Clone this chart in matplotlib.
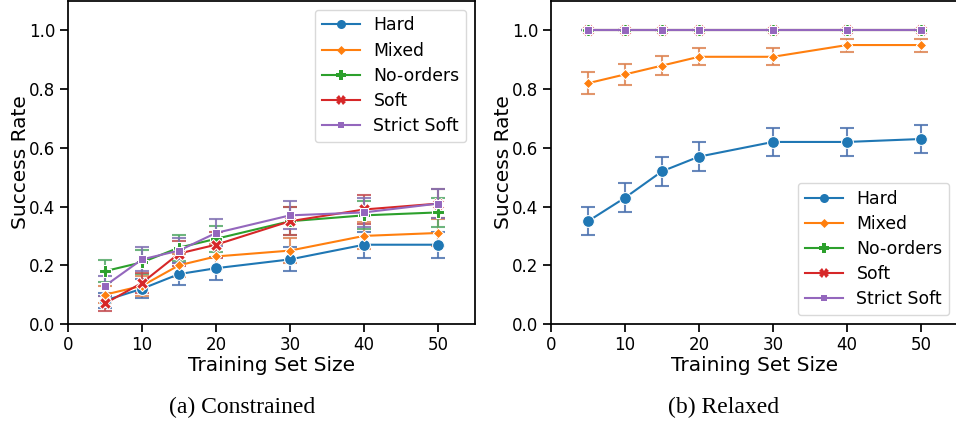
import matplotlib
matplotlib.use("Agg")
import matplotlib.pyplot as plt

sizes = [5, 10, 15, 20, 30, 40, 50]
methods = ["Hard", "Mixed", "No-orders", "Soft", "Strict Soft"]

# Constrained
con_hard = [0.08, 0.12, 0.17, 0.19, 0.22, 0.27, 0.27]
con_mixed = [0.10, 0.13, 0.20, 0.23, 0.25, 0.30, 0.31]
con_noord = [0.18, 0.21, 0.26, 0.29, 0.35, 0.37, 0.38]
con_soft = [0.07, 0.14, 0.24, 0.27, 0.35, 0.39, 0.41]
con_strict = [0.13, 0.22, 0.25, 0.31, 0.37, 0.38, 0.41]
con_hard_err = [0.027, 0.032, 0.038, 0.039, 0.041, 0.044, 0.044]
con_mixed_err = [0.030, 0.034, 0.040, 0.042, 0.043, 0.046, 0.046]
con_noord_err = [0.038, 0.041, 0.044, 0.045, 0.048, 0.048, 0.049]
con_soft_err = [0.026, 0.035, 0.043, 0.044, 0.048, 0.049, 0.049]
con_strict_err = [0.034, 0.041, 0.043, 0.046, 0.048, 0.049, 0.049]

# Relaxed
rel_hard = [0.35, 0.43, 0.52, 0.57, 0.62, 0.62, 0.63]
rel_mixed = [0.82, 0.85, 0.88, 0.91, 0.91, 0.95, 0.95]
rel_noord = [1.0, 1.0, 1.0, 1.0, 1.0, 1.0, 1.0]
rel_soft = [1.0, 1.0, 1.0, 1.0, 1.0, 1.0, 1.0]
rel_strict = [1.0, 1.0, 1.0, 1.0, 1.0, 1.0, 1.0]
rel_hard_err = [0.048, 0.050, 0.050, 0.050, 0.049, 0.049, 0.048]
rel_mixed_err = [0.038, 0.036, 0.032, 0.029, 0.029, 0.022, 0.022]
rel_zero_err = [0, 0, 0, 0, 0, 0, 0]

line_colors = ["#1f77b4", "#ff7f0e", "#2ca02c", "#d62728", "#9467bd"]
err_colors = ["#4c72b0", "#dd8452", "#55a868", "#c44e52", "#8172b3"]
markers = ["o", (4, 0, 0), "P", "X", (4, 0, 45)]
msizes = [8.5, 7.5, 8.5, 8.5, 7.5]

fig = plt.figure(figsize=(9.56, 4.25), dpi=100)
ax1 = fig.add_axes([68 / 956, 101 / 425, 407 / 956, 323 / 425])
ax2 = fig.add_axes([551 / 956, 101 / 425, 407 / 956, 323 / 425])

panels = [
    (ax1, [con_hard, con_mixed, con_noord, con_soft, con_strict],
     [con_hard_err, con_mixed_err, con_noord_err, con_soft_err, con_strict_err], "upper right"),
    (ax2, [rel_hard, rel_mixed, rel_noord, rel_soft, rel_strict],
     [rel_hard_err, rel_mixed_err, rel_zero_err, rel_zero_err, rel_zero_err], "lower right"),
]

for ax, series, errs, loc in panels:
    for i, (name, ys, es) in enumerate(zip(methods, series, errs)):
        ax.plot(sizes, ys, color=line_colors[i], marker=markers[i], markersize=msizes[i],
                markeredgecolor="white", markeredgewidth=0.75, linewidth=1.5,
                label=name, zorder=3 + i * 0.1)
        ax.errorbar(sizes, ys, yerr=es, fmt="none", ecolor=err_colors[i], elinewidth=1.5,
                    capsize=5, capthick=1.5, alpha=0.85, zorder=2.5 + i * 0.1)
    ax.set_xlim(0, 55)
    ax.set_ylim(0, 1.1)
    ax.set_xticks([0, 10, 20, 30, 40, 50])
    ax.set_yticks([0.0, 0.2, 0.4, 0.6, 0.8, 1.0])
    ax.set_yticklabels(["0.0", "0.2", "0.4", "0.6", "0.8", "1.0"])
    ax.tick_params(axis="both", labelsize=12, length=6, width=1.25, pad=3)
    for sp in ax.spines.values():
        sp.set_linewidth(1.25)
    ax.set_xlabel("Training Set Size", fontsize=14.5, labelpad=1)
    ax.set_ylabel("Success Rate", fontsize=14.5, labelpad=-0.5)
    leg = ax.legend(loc=loc, fontsize=12.4, handlelength=2.2, frameon=True,
                    borderaxespad=0.5, labelspacing=0.42)
    leg.get_frame().set_edgecolor("#d0d0d0")
    for h in leg.legend_handles:
        h.set_markeredgewidth(0)
        h.set_markersize(6.5)

fig.text(242 / 956, 1 - 407 / 425, "(a) Constrained", ha="center", va="center",
         family="Liberation Serif", fontsize=17)
fig.text(724 / 956, 1 - 407 / 425, "(b) Relaxed", ha="center", va="center",
         family="Liberation Serif", fontsize=17)

fig.savefig("out.png", dpi=100)
